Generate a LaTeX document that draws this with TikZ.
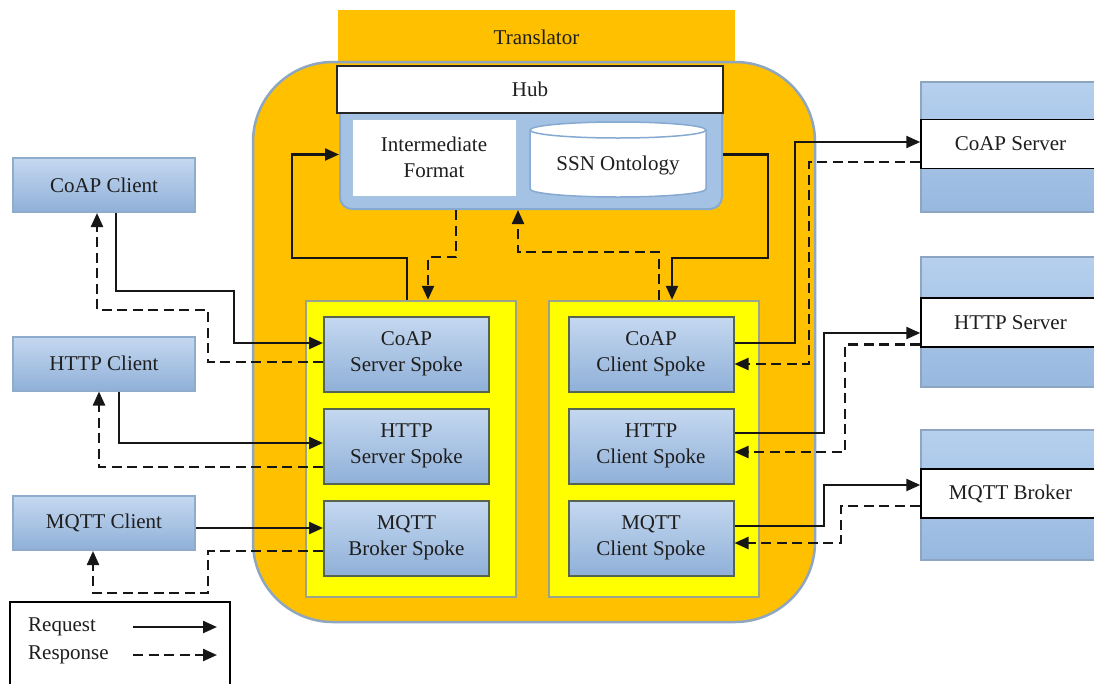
\documentclass[tikz,border=0pt]{standalone}
\usepackage{fontspec}
\setmainfont{Liberation Serif}
\usetikzlibrary{arrows.meta}

\definecolor{ink}{HTML}{1E1E1E}
\definecolor{wire}{HTML}{161616}
\definecolor{gold}{HTML}{FFC000}
\definecolor{frame}{HTML}{8EA6BF}
\definecolor{yel}{HTML}{FFFF00}
\definecolor{yelline}{HTML}{9AA38C}
\definecolor{hubfill}{HTML}{A4C2E4}
\definecolor{hubline}{HTML}{86A9D1}
\definecolor{spTop}{HTML}{C5D8F0}
\definecolor{spBot}{HTML}{8FB0D8}
\definecolor{spLine}{HTML}{55654F}
\definecolor{clLine}{HTML}{8FACCD}
\definecolor{srvTop}{HTML}{B6D0EE}
\definecolor{srvBot}{HTML}{97B8DF}
\definecolor{srvLine}{HTML}{8EA5C1}

\begin{document}
\begin{tikzpicture}[x=1pt,y=-1pt,
  font=\fontsize{21}{26}\selectfont,
  every node/.style={inner sep=0pt, align=center, text=ink},
  req/.style={line width=2.3pt, draw=wire, -{Triangle[length=14pt,width=12pt]}},
  resp/.style={req, dash pattern=on 10pt off 5.5pt},
  spoke/.style={draw=spLine, line width=2pt, top color=spTop, bottom color=spBot,
    minimum width=165pt, minimum height=75pt},
  client/.style={draw=clLine, line width=2pt, top color=spTop, bottom color=spBot,
    minimum width=182pt, minimum height=54pt},
  panel/.style={draw=yelline, line width=2.5pt, fill=yel,
    minimum width=210pt, minimum height=296pt},
  server/.style={draw=srvLine, line width=1.5pt, top color=srvTop, bottom color=srvBot,
    minimum width=189pt, minimum height=130pt},
  band/.style={draw=black, line width=1.5pt, fill=white,
    minimum width=179pt, minimum height=49pt},
]
\clip (0,0) rectangle (1094,683);
\fill[white] (0,0) rectangle (1094,683);

% translator: tab and rounded body
\node[fill=gold, minimum width=397pt, minimum height=54pt] (tab) at (536.5,37) {Translator};
\node[draw=frame, line width=2.5pt, fill=gold, rounded corners=80pt,
      minimum width=562pt, minimum height=560pt] (trans) at (534,342) {};

% hub with its storage area
\node[draw=hubline, line width=2pt, fill=hubfill, rounded corners=12pt,
      minimum width=382pt, minimum height=109pt] (hubc) at (531,154.5) {};
\node[draw=black!85, line width=1.5pt, fill=white,
      minimum width=386pt, minimum height=47pt] (hub) at (530,89.5) {Hub};
\node[draw=hubline!70, line width=1pt, fill=white,
      minimum width=164pt, minimum height=77pt] (interm) at (434,157.5) {Intermediate\\Format};

% SSN ontology store
\path[fill=white, draw=hubline, line width=1.5pt]
  (530,130) -- (530,189) arc[start angle=180, end angle=360, x radius=88pt, y radius=8pt]
  -- (706,130) arc[start angle=0, end angle=180, x radius=88pt, y radius=8pt] -- cycle;
\draw[hubline, line width=1.5pt] (530,130) arc[start angle=180, end angle=360, x radius=88pt, y radius=8pt];
\node (ssn) at (618,165) {SSN Ontology};

% spoke panels
\node[panel] (lyel) at (411,449) {};
\node[panel] (ryel) at (654,449) {};

\node[spoke] (css) at (406.5,354) {CoAP\\Server Spoke};
\node[spoke] (hss) at (406.5,446) {HTTP\\Server Spoke};
\node[spoke] (mbs) at (406.5,538) {MQTT\\Broker Spoke};

\node[spoke] (ccs) at (651,354) {CoAP\\Client Spoke};
\node[spoke] (hcs) at (651,446) {HTTP\\Client Spoke};
\node[spoke] (mcs) at (651,538) {MQTT\\Client Spoke};

% clients
\node[client] (coapc) at (104,185) {CoAP Client};
\node[client] (httpc) at (104,363.5) {HTTP Client};
\node[client] (mqttc) at (104,523) {MQTT Client};

% servers
\node[server] (coaps) at (1015.5,147) {};
\node[band] (coapw) at (1010.5,144) {CoAP Server};
\node[server] (https) at (1015.5,322) {};
\node[band] (httpw) at (1010.5,322.5) {HTTP Server};
\node[server] (mqtts) at (1015.5,495) {};
\node[band] (mqttw) at (1010.5,493.5) {MQTT Broker};

% inside the translator
\draw[req] ([xshift=-4pt]lyel.north) |- (292,258) |- (hubc.west);
\draw[resp] ([xshift=-75pt]hubc.south) |- (428,257) -- ([xshift=17pt]lyel.north);
\draw[resp] ([xshift=5pt]ryel.north) |- (518,252) -- ([xshift=-13pt]hubc.south);
\draw[req] (hubc.east) -| (768,258) -| ([xshift=18pt]ryel.north);

% clients to server spokes
\draw[req] ([xshift=12pt]coapc.south) |- (234,291) |- ([yshift=11pt]css.west);
\draw[resp] ([yshift=-8pt]css.west) -| (208,310) -| ([xshift=-7pt]coapc.south);
\draw[req] ([xshift=15pt]httpc.south) |- ([yshift=3pt]hss.west);
\draw[resp] ([yshift=-21pt]hss.west) -| ([xshift=-5pt]httpc.south);
\draw[req] ([yshift=-5pt]mqttc.east) -- ([yshift=10pt]mbs.west);
\draw[resp] ([yshift=-13pt]mbs.west) -| (208,593) -| ([xshift=-11pt]mqttc.south);

% client spokes to servers
\draw[req] ([yshift=11pt]ccs.east) -| (795,142) -- ([yshift=2pt]coapw.west);
\draw[resp] ([yshift=-18pt]coapw.west) -| (809,364) -- ([yshift=-10pt]ccs.east);
\draw[req] ([yshift=13pt]hcs.east) -| (824,333) -- ([yshift=-10.5pt]httpw.west);
\draw[resp] ([yshift=-22pt]httpw.west) -| (845,452) -- ([yshift=-6pt]hcs.east);
\draw[req] ([yshift=12pt]mcs.east) -| (824,485) -- ([yshift=8.5pt]mqttw.west);
\draw[resp] ([yshift=-12.5pt]mqttw.west) -| (841,543) -- ([yshift=-5pt]mcs.east);

% legend
\node[draw=black, line width=1.5pt, fill=white, minimum width=220pt, minimum height=98pt] (legend) at (120,651) {};
\node[anchor=west] (legreq) at (28,627) {Request};
\node[anchor=west] (legresp) at (28,655) {Response};
\coordinate (lq1) at (133,627);
\coordinate (lq2) at (217,627);
\coordinate (lr1) at (133,655);
\coordinate (lr2) at (217,655);
\draw[req] (lq1) -- (lq2);
\draw[resp] (lr1) -- (lr2);
\end{tikzpicture}
\end{document}
